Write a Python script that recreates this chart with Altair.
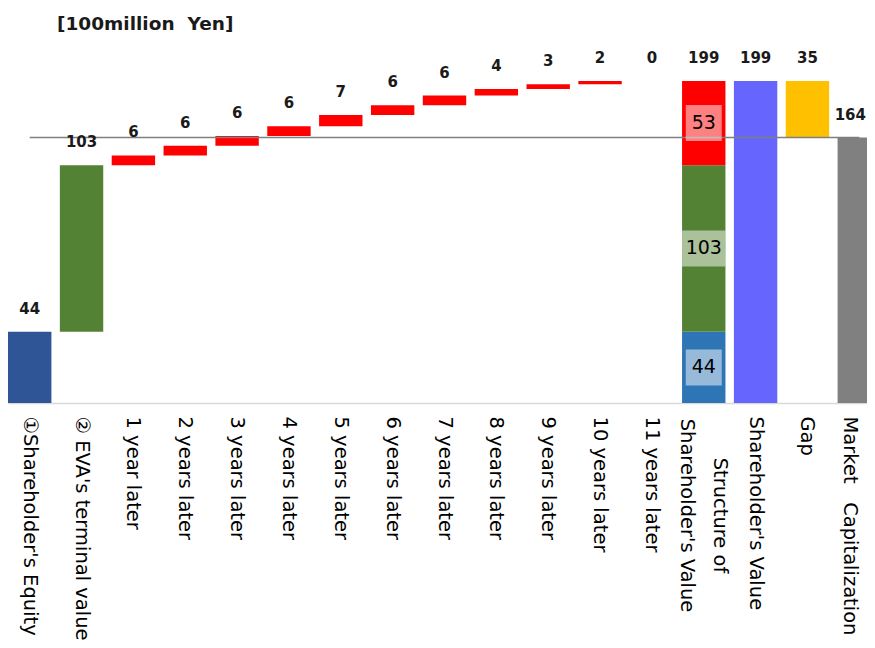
import altair as alt
import pandas as pd

# ---- data ----
categories = [
    "①Shareholder's Equity",
    "② EVA's terminal value",
    "1 year later", "2 years later", "3 years later", "4 years later",
    "5 years later", "6 years later", "7 years later", "8 years later",
    "9 years later", "10 years later", "11 years later",
    "Structure of Shareholder's Value",
    "Shareholder's Value",
    "Gap",
    "Market\u00a0\u00a0\u00a0Capitalization",
]
equity = 44
eva_terminal = 103
yearly_eva = [6, 6, 6, 6, 7, 6, 6, 4, 3, 2, 0]
structure_labels = [44, 103, 53]
shareholder_value = 199
gap = 35
market_cap = 164
unit_title = "[100million\u00a0\u00a0Yen]"

# ---- styles ----
C_EQUITY = "#2F5597"
C_EVA = "#548235"
C_YEAR = "#FF0000"
C_STRUCT = ["#2E75B6", "#548235", "#FF0000"]
C_SV = "#6666FF"
C_GAP = "#FFC000"
C_MC = "#808080"
FONT = "DejaVu Sans"

# ---- build waterfall table ----
bars, tops = [], []
bars.append(dict(cat=categories[0], lo=0, hi=equity, color=C_EQUITY))
tops.append(dict(cat=categories[0], y=equity, txt=str(equity), edge=False))
bars.append(dict(cat=categories[1], lo=equity, hi=equity + eva_terminal, color=C_EVA))
tops.append(dict(cat=categories[1], y=equity + eva_terminal, txt=str(eva_terminal), edge=False))
cum = equity + eva_terminal
for i, v in enumerate(yearly_eva):
    c = categories[2 + i]
    bars.append(dict(cat=c, lo=cum, hi=cum + v, color=C_YEAR))
    tops.append(dict(cat=c, y=cum + v, txt=str(v), edge=False))
    cum += v

scat = categories[13]
bounds = [0, equity, equity + eva_terminal, shareholder_value]
boxes = []
for k in range(3):
    bars.append(dict(cat=scat, lo=bounds[k], hi=bounds[k + 1], color=C_STRUCT[k]))
    boxes.append(dict(cat=scat, y=(bounds[k] + bounds[k + 1]) / 2, txt=str(structure_labels[k]),
                      wide=len(str(structure_labels[k])) > 2))
tops.append(dict(cat=scat, y=shareholder_value, txt=str(shareholder_value), edge=False))

bars.append(dict(cat=categories[14], lo=0, hi=shareholder_value, color=C_SV))
tops.append(dict(cat=categories[14], y=shareholder_value, txt=str(shareholder_value), edge=False))
bars.append(dict(cat=categories[15], lo=market_cap, hi=market_cap + gap, color=C_GAP))
tops.append(dict(cat=categories[15], y=market_cap + gap, txt=str(gap), edge=False))
bars.append(dict(cat=categories[16], lo=0, hi=market_cap, color=C_MC))
tops.append(dict(cat=categories[16], y=market_cap, txt=str(market_cap), edge=True))

df_bars = pd.DataFrame(bars)
df_tops = pd.DataFrame(tops)
df_boxes = pd.DataFrame(boxes)
df_rule = pd.DataFrame([dict(a=categories[0], b=categories[-1], y=market_cap)])
df_title = pd.DataFrame([dict(t=unit_title)])

IS_STRUCT = 'indexof(datum.value, "Structure") === 0'
IS_EDGE = 'indexof(datum.value, "Market") === 0'
label_expr = IS_STRUCT + ' ? ["Structure of", slice(datum.value, 13)] : datum.label'

# the band range runs past the right edge of the page, as in the reference
xscale = alt.Scale(domain=categories, paddingInner=0.163, paddingOuter=0, range=[0, 873])
yscale = alt.Scale(domain=[0, 220], nice=False, zero=True)

xenc = alt.X("cat:N", scale=xscale, sort=categories,
             axis=alt.Axis(title=None, labelAngle=90,
                           labelAlign={"condition": {"test": IS_STRUCT, "value": "center"}, "value": "left"},
                           labelPadding={"condition": {"test": IS_STRUCT, "value": 112}, "value": 13},
                           labelOffset={"condition": {"test": IS_STRUCT, "value": 16}, "value": 0},
                           labelBaseline={"condition": {"test": IS_EDGE, "value": "top"}, "value": "middle"},
                           labelFontSize=19.5, labelFont=FONT, labelColor="#000000",
                           ticks=False, tickSize=0, labelLimit=500,
                           labelOverlap=False, labelLineHeight=33, labelExpr=label_expr,
                           domainColor="#d9d9d9", domainWidth=1.5, grid=False))

bar_layer = alt.Chart(df_bars).mark_bar().encode(
    x=xenc,
    y=alt.Y("lo:Q", scale=yscale, axis=None),
    y2="hi:Q",
    color=alt.Color("color:N", scale=None),
)

rule_layer = alt.Chart(df_rule).mark_rule(color="#7f7f7f", strokeWidth=1.5).encode(
    x=alt.X("a:N", scale=xscale, sort=categories),
    x2="b:N",
    y=alt.Y("y:Q", scale=yscale),
)

top_labels = alt.Chart(df_tops).transform_filter("!datum.edge").mark_text(
    font=FONT, fontSize=15, fontWeight="bold", color="#1a1a1a", baseline="middle", dy=-23
).encode(
    x=alt.X("cat:N", scale=xscale, sort=categories),
    y=alt.Y("y:Q", scale=yscale),
    text="txt:N",
)
# the last label sits at the page edge: nudge it left so that it stays readable
edge_label = alt.Chart(df_tops).transform_filter("datum.edge").mark_text(
    font=FONT, fontSize=15, fontWeight="bold", color="#1a1a1a", baseline="middle", dy=-23, dx=-9
).encode(
    x=alt.X("cat:N", scale=xscale, sort=categories),
    y=alt.Y("y:Q", scale=yscale),
    text="txt:N",
)

sq_boxes = alt.Chart(df_boxes).transform_filter("!datum.wide").mark_point(
    shape="square", filled=True, size=36 * 36, color="white", opacity=0.5, strokeWidth=0
).encode(
    x=alt.X("cat:N", scale=xscale, sort=categories),
    y=alt.Y("y:Q", scale=yscale),
)
wide_boxes = alt.Chart(df_boxes).transform_filter("datum.wide").mark_point(
    shape="M-1.205,-1H1.205V1H-1.205Z", filled=True, size=36 * 36, color="white", opacity=0.5,
    strokeWidth=0
).encode(
    x=alt.X("cat:N", scale=xscale, sort=categories),
    y=alt.Y("y:Q", scale=yscale),
)
box_text = alt.Chart(df_boxes).mark_text(
    font=FONT, fontSize=19, color="#000000", baseline="middle"
).encode(
    x=alt.X("cat:N", scale=xscale, sort=categories),
    y=alt.Y("y:Q", scale=yscale),
    text="txt:N",
)

title_layer = alt.Chart(df_title).mark_text(
    font=FONT, fontSize=18.5, fontWeight="bold", color="#1a1a1a",
    align="left", baseline="alphabetic"
).encode(
    x=alt.value(49),
    y=alt.value(-17),
    text="t:N",
)

chart = alt.layer(
    bar_layer, rule_layer, sq_boxes, wide_boxes, box_text, top_labels, edge_label, title_layer
).properties(
    width=859, height=356,
    autosize=alt.AutoSizeParams(type="none"),
    padding={"left": 0, "top": 39, "right": 0, "bottom": 237},
).configure_view(stroke=None)

chart.save("out.html", embed_options={"renderer": "svg", "actions": False})
